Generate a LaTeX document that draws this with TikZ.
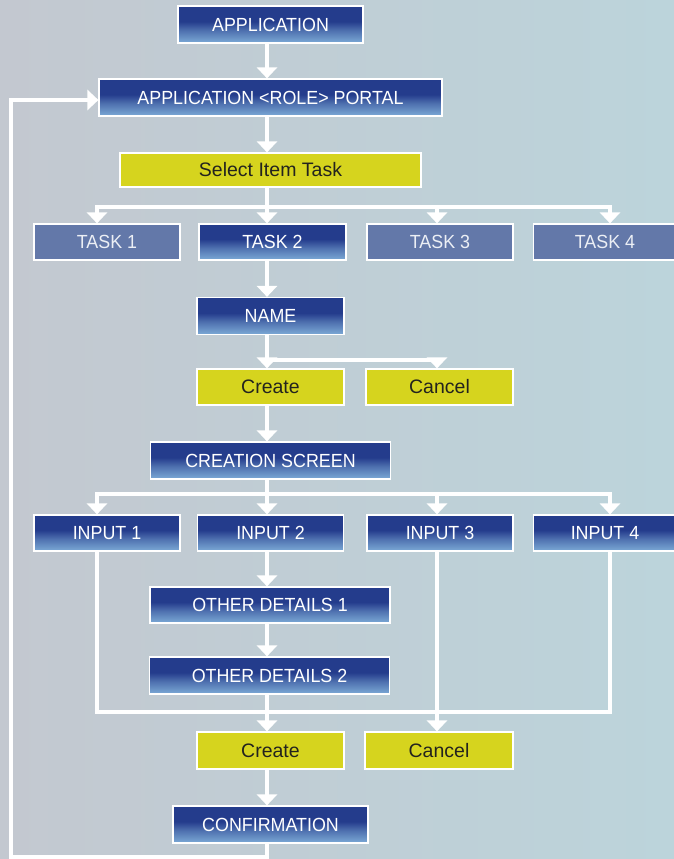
\documentclass[tikz,border=0pt]{standalone}
\usepackage{fontspec}
\setmainfont[FakeStretch=0.94]{Liberation Sans}
\newfontfamily\yfont{Liberation Sans}
\usetikzlibrary{arrows.meta}
\definecolor{bgl}{RGB}{195,200,208}
\definecolor{bgr}{RGB}{188,212,219}
\definecolor{dkb}{RGB}{36,60,140}
\definecolor{mdb}{RGB}{78,112,175}
\definecolor{ltb}{RGB}{124,170,214}
\definecolor{fdb}{RGB}{99,120,169}
\definecolor{ylw}{RGB}{214,212,30}
\definecolor{txt}{RGB}{35,35,30}
\pgfdeclareverticalshading{bluebox}{100bp}{color(0bp)=(ltb); color(25bp)=(ltb); color(42bp)=(mdb); color(54bp)=(dkb); color(75bp)=(dkb); color(100bp)=(dkb)}
\tikzset{
  base/.style={draw=white, line width=1.2pt, minimum height=37pt, inner sep=0pt, font=\fontsize{19}{22}\selectfont},
  bbox/.style={base, shading=bluebox, text=white},
  fbox/.style={base, fill=fdb, text=white!88!fdb},
  ybox/.style={base, fill=ylw, text=txt, font=\yfont\fontsize{19.5}{22}\selectfont},
  ln/.style={draw=white, line width=3.2pt},
  arr/.style={ln, -{Triangle[width=20pt,length=11pt]}}
}
\begin{document}
\begin{tikzpicture}[x=1pt,y=-1pt]
\useasboundingbox (0,0) rectangle (674,859);
\shade[left color=bgl, right color=bgr] (0,0) rectangle (674,859);
% columns and levels
\coordinate (c1) at (97,0);
\coordinate (tx) at (267,0);
\coordinate (c3) at (437,0);
\coordinate (c4) at (610,0);
\coordinate (y1) at (0,207);
\coordinate (y2) at (0,360);
\coordinate (y3) at (0,494);
\coordinate (y4) at (0,712);
\coordinate (lb) at (11,857);
\coordinate (lt) at (11,100);
% nodes
\node[bbox, minimum width=185pt] (app) at (270.5,24.5) {APPLICATION};
\node[bbox, minimum width=343pt] (portal) at (270.5,97.5) {APPLICATION <ROLE> PORTAL};
\node[ybox, minimum width=301pt, minimum height=34pt] (select) at (270.5,170) {Select Item Task};
\node[fbox, minimum width=146pt, minimum height=36pt] (task1) at (107,242) {TASK 1};
\node[bbox, minimum width=147pt, minimum height=36pt] (task2) at (272.5,242) {TASK 2};
\node[fbox, minimum width=146pt, minimum height=36pt] (task3) at (440,242) {TASK 3};
\node[fbox, minimum width=143pt, minimum height=36pt] (task4) at (605,242) {TASK 4};
\node[bbox, minimum width=147pt] (name) at (270.5,316) {NAME};
\node[ybox, minimum width=147pt, minimum height=36pt] (create1) at (270.5,387) {Create};
\node[ybox, minimum width=147pt, minimum height=36pt] (cancel1) at (439.5,387) {Cancel};
\node[bbox, minimum width=240pt] (creation) at (270.5,460.5) {CREATION SCREEN};
\node[bbox, minimum width=146pt, minimum height=36pt] (input1) at (107,533) {INPUT 1};
\node[bbox, minimum width=146pt, minimum height=36pt] (input2) at (270.5,533) {INPUT 2};
\node[bbox, minimum width=146pt, minimum height=36pt] (input3) at (440,533) {INPUT 3};
\node[bbox, minimum width=143pt, minimum height=36pt] (input4) at (605,533) {INPUT 4};
\node[bbox, minimum width=240pt, minimum height=36pt] (od1) at (270,605) {OTHER DETAILS 1};
\node[bbox, minimum width=240pt] (od2) at (269.5,675.5) {OTHER DETAILS 2};
\node[ybox, minimum width=147pt] (create2) at (270.5,750.5) {Create};
\node[ybox, minimum width=148pt] (cancel2) at (439,750.5) {Cancel};
\node[bbox, minimum width=195pt] (confirm) at (270.5,824.5) {CONFIRMATION};
% connectors
\draw[arr] (tx |- app.south) -- (tx |- portal.north);
\draw[arr] (tx |- portal.south) -- (tx |- select.north);
\draw[arr] (tx |- select.south) -- (tx |- y1) -| (c1 |- task1.north);
\draw[arr] (tx |- select.south) -- (tx |- task2.north);
\draw[arr] (tx |- select.south) -- (tx |- y1) -| (c3 |- task3.north);
\draw[arr] (tx |- select.south) -- (tx |- y1) -| (c4 |- task4.north);
\draw[arr] (tx |- task2.south) -- (tx |- name.north);
\draw[arr] (tx |- name.south) -- (tx |- create1.north);
\draw[arr] (tx |- name.south) -- (tx |- y2) -| (c3 |- cancel1.north);
\draw[arr] (tx |- create1.south) -- (tx |- creation.north);
\draw[arr] (tx |- creation.south) -- (tx |- y3) -| (c1 |- input1.north);
\draw[arr] (tx |- creation.south) -- (tx |- input2.north);
\draw[arr] (tx |- creation.south) -- (tx |- y3) -| (c3 |- input3.north);
\draw[arr] (tx |- creation.south) -- (tx |- y3) -| (c4 |- input4.north);
\draw[arr] (tx |- input2.south) -- (tx |- od1.north);
\draw[arr] (tx |- od1.south) -- (tx |- od2.north);
\draw[ln] (c1 |- input1.south) |- (c4 |- y4) -- (c4 |- input4.south);
\draw[arr] (tx |- od2.south) -- (tx |- create2.north);
\draw[arr] (c3 |- input3.south) -- (c3 |- cancel2.north);
\draw[arr] (tx |- create2.south) -- (tx |- confirm.north);
\draw[arr] (tx |- confirm.south) |- (lb) -- (lt) -- (lt -| portal.west);
\end{tikzpicture}
\end{document}
